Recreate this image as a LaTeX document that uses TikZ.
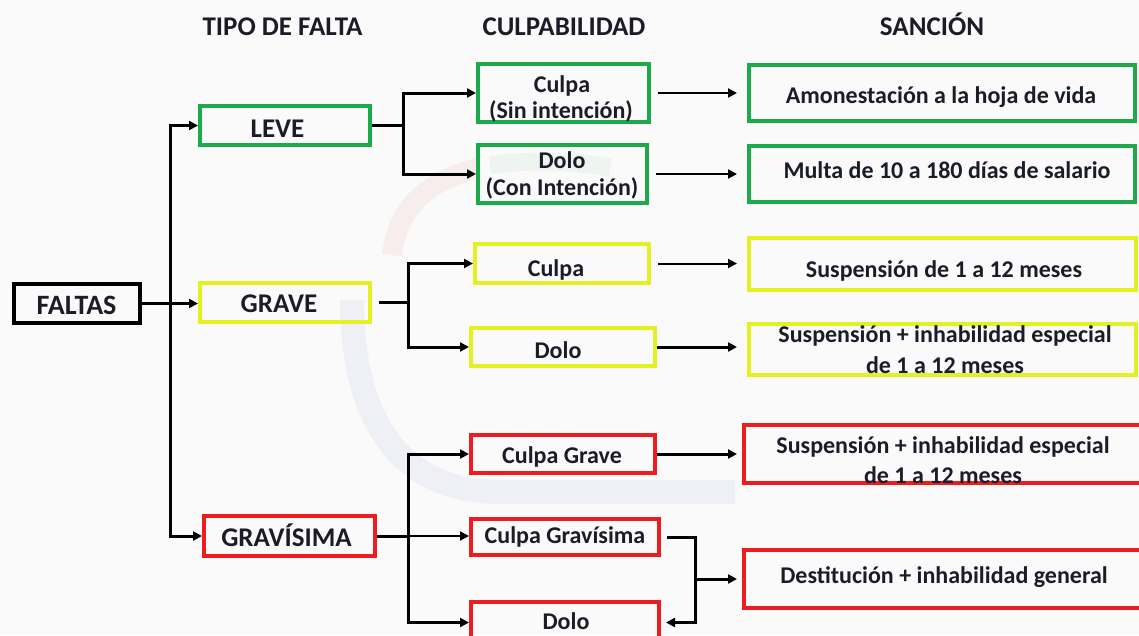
\documentclass[tikz,border=0pt]{standalone}
\usepackage{fontspec}
\setmainfont{Carlito}
\usetikzlibrary{arrows.meta}
\definecolor{gr}{HTML}{1DAA4B}
\definecolor{ye}{HTML}{E3F022}
\definecolor{rd}{HTML}{EC1C1F}
\definecolor{ink}{HTML}{1C1C28}
\definecolor{bgc}{HTML}{FAFAFA}
\definecolor{wblue}{HTML}{EEF0F6}
\definecolor{wred}{HTML}{F8EDED}
\definecolor{wgreen}{HTML}{EEF5F0}
\newcommand\mkbox[6]{\node[bxs, draw=#2, minimum width={#5-#3-4}, minimum height={#6-#4-4}] (#1) at ({(#3+#5)/2},{(#4+#6)/2}) {};}
\begin{document}
\begin{tikzpicture}[x=1pt,y=-1pt,
  bxs/.style={draw, line width=4pt, inner sep=0pt},
  hd/.style={font=\fontsize{27}{30}\selectfont\bfseries, text=ink, anchor=base, inner sep=0pt},
  lv/.style={font=\fontsize{27}{30}\selectfont\bfseries, text=ink, anchor=base, inner sep=0pt},
  bt/.style={font=\fontsize{24}{28}\selectfont\bfseries, text=ink, anchor=base, inner sep=0pt},
  thk/.style={line width=3pt},
  thn/.style={line width=2pt},
  arw/.style={-{Triangle[length=9pt,width=9pt]}}]
\fill[bgc] (0,0) rectangle (1139,635);
\useasboundingbox (0,0) rectangle (1139,635);
\clip (0,0) rectangle (1139,635);
% faint watermark
\draw[wblue, line width=24pt] (352,300) .. controls (352,420) and (400,492) .. (500,492) -- (735,492);
\draw[wred, line width=20pt] (392,255) .. controls (398,205) and (430,180) .. (478,168);
\draw[wgreen, line width=18pt] (490,165) .. controls (530,160) and (570,160) .. (610,168);
% boxes
\mkbox{faltas}{black}{12}{282}{142}{325}
\mkbox{leve}{gr}{198}{104}{372}{147}
\mkbox{grave}{ye}{198}{281}{372}{324}
\mkbox{gravisima}{rd}{202}{514}{377}{558}
\mkbox{cA}{gr}{476}{62}{651}{124}
\mkbox{dA}{gr}{476}{143}{649}{205}
\mkbox{cB}{ye}{473}{242}{651}{285}
\mkbox{dB}{ye}{469}{326}{657}{368}
\mkbox{cC}{rd}{469}{433}{657}{475}
\mkbox{gC}{rd}{469}{517}{661}{557}
\mkbox{dC}{rd}{469}{600}{661}{645}
\mkbox{sA}{gr}{747}{63}{1137}{123}
\mkbox{sB}{gr}{747}{144}{1137}{204}
\mkbox{sC}{ye}{747}{236}{1138}{292}
\mkbox{sD}{ye}{747}{322}{1138}{377}
\mkbox{sE}{rd}{742}{423}{1143}{485}
\mkbox{sF}{rd}{742}{548}{1143}{610}
% headers
\node[hd] (h1) at (282.5,35) {TIPO DE FALTA};
\node[hd] (h2) at (564,35) {CULPABILIDAD};
\node[hd] (h3) at (932,35) {SANCIÓN};
% texts
\node[lv, font=\fontsize{28}{30}\selectfont\bfseries] (t0) at (76.5,314) {FALTAS};
\node[lv] (t1) at (277.5,137) {LEVE};
\node[lv] (t2) at (279,312) {GRAVE};
\node[lv] (t3) at (286.5,546) {GRAVÍSIMA};
\node[bt] (ta1) at (562,92) {Culpa};
\node[bt] (ta2) at (561,118) {(Sin intención)};
\node[bt] (tb1) at (562,168) {Dolo};
\node[bt] (tb2) at (562,195) {(Con Intención)};
\node[bt] (tc) at (556,276) {Culpa};
\node[bt] (td) at (558,358) {Dolo};
\node[bt] (te) at (562,463) {Culpa Grave};
\node[bt] (tf) at (565,543) {Culpa Gravísima};
\node[bt] (tg) at (566,629) {Dolo};
\node[bt] (sa) at (941,103) {Amonestación a la hoja de vida};
\node[bt] (sb) at (947,178) {Multa de 10 a 180 días de salario};
\node[bt] (sc) at (944,277) {Suspensión de 1 a 12 meses};
\node[bt] (sd1) at (945,342) {Suspensión + inhabilidad especial};
\node[bt] (sd2) at (945,373) {de 1 a 12 meses};
\node[bt] (se1) at (943,453) {Suspensión + inhabilidad especial};
\node[bt] (se2) at (943,483) {de 1 a 12 meses};
\node[bt] (sf) at (944,583) {Destitución + inhabilidad general};
% connectors
\coordinate (tt) at (170,303.5);
\draw[thk,arw] (faltas.east) -- (faltas.east -| grave.west);
\draw[thk,arw] (tt) |- (leve.west);
\draw[thk,arw] (tt) |- (gravisima.west);
\coordinate (fA) at (403,125.5);
\draw[thk] (leve.east) -- (fA);
\draw[thk,arw] (fA) |- (cA.west);
\draw[thk,arw] (fA) |- (dA.west);
\coordinate (fB) at (408,302.5);
\draw[thk,shorten <=7pt] (grave.east) -- (fB);
\draw[thk,arw] (fB) |- (cB.west);
\draw[thk,arw] (fB) |- (dB.west);
\coordinate (fC) at (408,536);
\draw[thk] (gravisima.east) -- (fC);
\draw[thk,arw] (fC) |- (cC.west);
\draw[thn,arw] (fC) -- (fC -| gC.west);
\draw[thk,arw] (fC) |- (dC.west);
\draw[thn,arw,shorten <=7pt,shorten >=10pt] (cA.east) -- (cA.east -| sA.west);
\draw[thn,arw,shorten <=7pt,shorten >=10pt] (dA.east) -- (dA.east -| sB.west);
\draw[thn,arw,shorten <=7pt,shorten >=10pt] (cB.east) -- (cB.east -| sC.west);
\draw[thk,arw,shorten >=10pt] (dB.east) -- (dB.east -| sD.west);
\draw[thk,arw,shorten >=5pt] (cC.east) -- (cC.east -| sE.west);
\coordinate (jn) at (695,579);
\coordinate (jb) at (695,622.5);
\draw[thk,arw,shorten <=6pt,shorten >=5pt] (gC.east) -| (jb) -- (dC.east);
\draw[thk,arw,shorten >=5pt] (jn) -- (jn -| sF.west);
\end{tikzpicture}
\end{document}
